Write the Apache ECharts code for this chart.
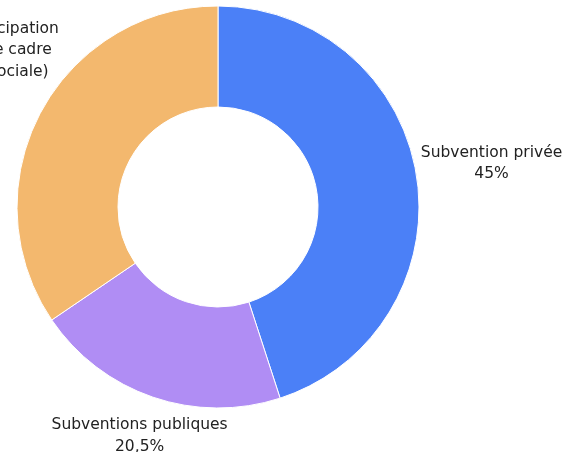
<!DOCTYPE html>
<html>
<head>
<meta charset="utf-8">
<script src="https://cdn.jsdelivr.net/npm/echarts@6/dist/echarts.min.js"></script>
<style>
	html, body { margin: 0; padding: 0; background: #ffffff; }
	#chart { width: 579px; height: 452px; }
</style>
</head>
<body>
<div id="chart"></div>
<script>
	// données du graphique
	var names = ['Subvention privée', 'Subventions publiques', 'Fonds propres et participation\n(mise à disposition de cadre\net de l\'intervention sociale)'];
	var values = [45, 20.5, 34.5];
	var colors = ['#4b80f7', '#b08df4', '#f3b86e'];

	var cx = 218, cy = 207, rIn = 100, rOut = 201;
	var total = values.reduce(function (a, b) { return a + b; }, 0);

	// angle du milieu de la part i (0 = en haut, sens horaire)
	function midAngle(i) {
		var s = 0;
		for (var k = 0; k < i; k++) s += values[k];
		return (s + values[i] / 2) / total * 2 * Math.PI;
	}

	var chart = echarts.init(document.getElementById('chart'));
	chart.setOption({
		animation: false,
		color: colors,
		series: [{
			type: 'pie',
			center: [cx, cy],
			radius: [rIn, rOut],
			startAngle: 90,
			clockwise: true,
			avoidLabelOverlap: false,
			itemStyle: { borderColor: '#ffffff', borderWidth: 1 },
			label: {
				position: 'inside',
				color: '#222222',
				fontFamily: 'DejaVu Sans',
				fontSize: 15.5,
				lineHeight: 21.5,
				formatter: function (p) {
					return p.name + '\n' + String(p.value).replace('.', ',') + '%';
				}
			},
			labelLine: { show: false },
			// étiquettes posées juste à l'extérieur de l'anneau
			labelLayout: function (p) {
				var a = midAngle(p.dataIndex);
				var ux = Math.sin(a), uy = -Math.cos(a);
				var w = p.labelRect.width, h = p.labelRect.height;
				var d = rOut + 6 + Math.sqrt(Math.pow(ux * w / 2, 2) + Math.pow(uy * h / 2, 2));
				return { x: cx + ux * d, y: cy + uy * d, align: 'center', verticalAlign: 'middle' };
			},
			data: names.map(function (n, i) { return { name: n, value: values[i] }; })
		}]
	});
</script>
</body>
</html>
